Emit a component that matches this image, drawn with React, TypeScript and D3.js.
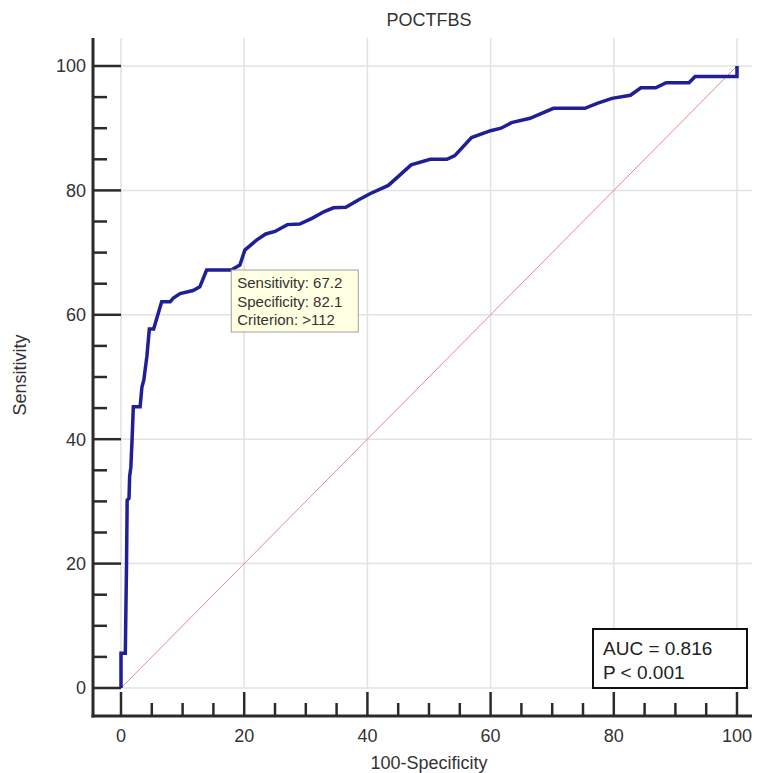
import React from "react";
import * as d3 from "d3";

const title = "POCTFBS";
const xLabel = "100-Specificity";
const yLabel = "Sensitivity";
const xTicks = [0, 20, 40, 60, 80, 100];
const yTicks = [0, 20, 40, 60, 80, 100];
const minorTicks = [5, 10, 15, 25, 30, 35, 45, 50, 55, 65, 70, 75, 85, 90, 95];

// ROC curve points: 100-Specificity (x) and Sensitivity (y)
const fpr = [0, 0, 0.7, 0.8, 0.9, 1.0, 1.3, 1.4, 1.6, 1.8, 2.0, 3.1, 3.4, 3.7, 4.2, 4.6, 5.3, 6.6, 8.0, 8.5, 9.6, 11.7, 12.8, 13.9, 17.9, 19.3, 20.1, 22, 23.5, 25, 27, 29, 31, 33, 34.5, 36.5, 38.6, 40.5, 43.4, 47.1, 50.2, 52.9, 54.2, 56.9, 60, 61.7, 63.4, 66.4, 70.2, 75.3, 77.3, 79.7, 82.7, 84.4, 86.8, 88.5, 92.2, 93.2, 100, 100];
const tpr = [0, 5.6, 5.6, 13, 20, 30.2, 30.5, 34, 35.5, 40, 45.2, 45.2, 48.4, 49.5, 53.3, 57.7, 57.7, 62.1, 62.1, 62.7, 63.4, 63.9, 64.5, 67.2, 67.2, 68.0, 70.4, 72, 73, 73.4, 74.5, 74.6, 75.5, 76.6, 77.2, 77.3, 78.5, 79.5, 80.8, 84.1, 85.0, 85.0, 85.6, 88.5, 89.6, 90.0, 90.9, 91.6, 93.2, 93.2, 94.0, 94.8, 95.3, 96.5, 96.5, 97.3, 97.3, 98.3, 98.3, 100];

const criterionFpr = 17.9;
const criterionTpr = 67.2;
const tooltipLines = ["Sensitivity: 67.2", "Specificity: 82.1", "Criterion: >112"];
const aucLines = ["AUC = 0.816", "P < 0.001"];

const W = 757;
const H = 773;
const FONT = "'Liberation Sans', Arial, sans-serif";

export default function App() {
  const x = d3.scaleLinear().domain([0, 100]).range([121, 737]);
  const y = d3.scaleLinear().domain([0, 100]).range([688, 66]);

  const axisX = 93; // left axis line
  const axisY = 716; // bottom axis line
  const gridTop = 38;
  const gridRight = 752;

  const pts: [number, number][] = fpr.map((f, i) => [f, tpr[i]]);
  const line = d3
    .line<[number, number]>()
    .x((d) => x(d[0]))
    .y((d) => y(d[1]));

  const tx = x(criterionFpr);
  const ty = y(criterionTpr);

  const aucRight = 747;
  const aucBottom = y(0);
  const aucW = 154;
  const aucH = 59;

  return (
    <svg
      width={W}
      height={H}
      style={{ position: "absolute", left: 0, top: 0, background: "#fff" }}
      fontFamily={FONT}
    >
      <rect x={0} y={0} width={W} height={H} fill="#fff" />
      {/* grid */}
      {xTicks.map((t) => (
        <line key={"gx" + t} x1={x(t)} x2={x(t)} y1={gridTop} y2={y(0)} stroke="#e2e2e2" strokeWidth={1.5} />
      ))}
      {yTicks.map((t) => (
        <line key={"gy" + t} x1={x(0)} x2={gridRight} y1={y(t)} y2={y(t)} stroke="#e2e2e2" strokeWidth={1.5} />
      ))}

      {/* diagonal reference */}
      <line x1={x(0)} y1={y(0)} x2={x(100)} y2={y(100)} stroke="#e38a8a" strokeWidth={1} />

      {/* ROC curve */}
      <path d={line(pts) || ""} fill="none" stroke="#1f1f96" strokeWidth={3.5} strokeLinejoin="miter" />

      {/* axes */}
      <line x1={axisX} x2={axisX} y1={gridTop} y2={axisY + 1.5} stroke="#2b2b2b" strokeWidth={3} />
      <line x1={axisX - 1.5} x2={gridRight} y1={axisY} y2={axisY} stroke="#2b2b2b" strokeWidth={3} />

      {/* y ticks */}
      {yTicks.map((t) => (
        <g key={"yt" + t}>
          <line x1={axisX} x2={x(0)} y1={y(t)} y2={y(t)} stroke="#2b2b2b" strokeWidth={2.5} />
          <text x={86} y={y(t)} dy="0.35em" textAnchor="end" fontSize={18} fill="#333">
            {t}
          </text>
        </g>
      ))}
      {minorTicks.map((t) => (
        <line key={"ym" + t} x1={axisX} x2={axisX + 14} y1={y(t)} y2={y(t)} stroke="#2b2b2b" strokeWidth={2.5} />
      ))}

      {/* x ticks */}
      {xTicks.map((t) => (
        <g key={"xt" + t}>
          <line x1={x(t)} x2={x(t)} y1={axisY} y2={692} stroke="#2b2b2b" strokeWidth={2.5} />
          <text x={x(t)} y={736} dy="0.35em" textAnchor="middle" fontSize={18} fill="#333">
            {t}
          </text>
        </g>
      ))}
      {minorTicks.map((t) => (
        <line key={"xm" + t} x1={x(t)} x2={x(t)} y1={axisY} y2={703} stroke="#2b2b2b" strokeWidth={2.5} />
      ))}

      {/* titles */}
      <text x={(x(0) + x(100)) / 2} y={20} dy="0.35em" textAnchor="middle" fontSize={18} fill="#333">
        {title}
      </text>
      <text x={(x(0) + x(100)) / 2} y={763} dy="0.35em" textAnchor="middle" fontSize={18} fill="#333">
        {xLabel}
      </text>
      <text
        transform={`translate(20,375) rotate(-90)`}
        dy="0.35em"
        textAnchor="middle"
        fontSize={18}
        fill="#333"
      >
        {yLabel}
      </text>

      {/* criterion tooltip */}
      <rect x={tx} y={ty} width={127} height={62} fill="#ffffe1" stroke="#a0a0a0" strokeWidth={1} />
      {tooltipLines.map((s, i) => (
        <text key={"tt" + i} x={tx + 6} y={ty + 13 + i * 18.5} dy="0.35em" fontSize={15} fill="#333">
          {s}
        </text>
      ))}

      {/* AUC box */}
      <rect x={aucRight - aucW} y={aucBottom - aucH} width={aucW} height={aucH} fill="#fff" stroke="#111" strokeWidth={2} />
      {aucLines.map((s, i) => (
        <text key={"auc" + i} x={aucRight - aucW + 10} y={aucBottom - aucH + 19 + i * 24} dy="0.35em" fontSize={19} fill="#222">
          {s}
        </text>
      ))}
    </svg>
  );
}
